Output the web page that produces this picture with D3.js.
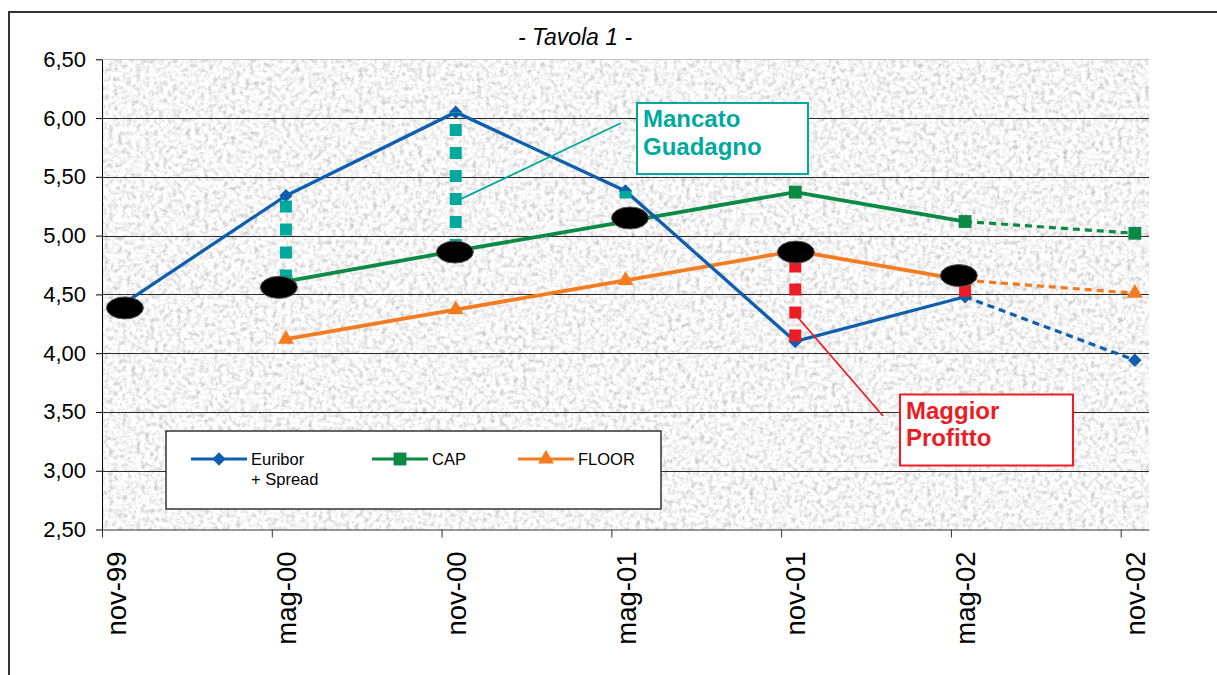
<!DOCTYPE html>
<html>
<head>
<meta charset="utf-8">
<script src="https://cdn.jsdelivr.net/npm/d3@7"></script>
<style>
body{margin:0;background:#fff;}
svg{display:block;font-family:Arial,"Liberation Sans",sans-serif;}
</style>
</head>
<body>
<svg width="1217" height="675"></svg>
<script>
// dati
var mesi = ["nov-99","mag-00","nov-00","mag-01","nov-01","mag-02","nov-02"];
var posMesi = [0,6,12,18,24,30,36]; // mesi contati da nov-99
var euribor = [4.38,5.34,6.05,5.38,4.10,4.48,3.94];
var cap = [null,4.61,4.87,5.12,5.37,5.12,5.02];
var floor = [null,4.12,4.37,4.62,4.87,4.62,4.51];
var tickY = [2.5,3,3.5,4,4.5,5,5.5,6,6.5];
// ovali neri = tasso effettivo (posizione in mesi, valore)
var ovaliMesi = [0.81,6.25,12.47,18.66,24.52,30.28];
var ovaliTasso = [4.385,4.56,4.86,5.15,4.86,4.66];
// indici dei mesi con tratteggio verticale
var mancatoIdx = [1,2,3];   // euribor sopra il cap
var profittoIdx = [4,5];    // floor sopra l'euribor

var svg = d3.select("svg");
var x = d3.scaleLinear().domain([0,37]).range([102,1149]);
var y = d3.scaleLinear().domain([2.5,6.5]).range([529.5,59.3]);

// sfondo granito
var filtro = svg.append("defs").append("filter")
	.attr("id","granito")
	.attr("x",0).attr("y",0).attr("width",1).attr("height",1)
	.attr("color-interpolation-filters","sRGB");
filtro.append("feTurbulence")
	.attr("type","fractalNoise")
	.attr("baseFrequency",0.22)
	.attr("numOctaves",4)
	.attr("seed",5);
filtro.append("feColorMatrix")
	.attr("type","matrix")
	.attr("values","0.26 0.26 0.26 0 0.57  0.26 0.26 0.26 0 0.57  0.26 0.26 0.26 0 0.57  0 0 0 0 1");

// cornice esterna
svg.append("path")
	.attr("d","M9,680 V12 H1230")
	.style("fill","none")
	.style("stroke","#333")
	.style("stroke-width",2);

svg.append("rect")
	.attr("x",x(0))
	.attr("y",y(6.5))
	.attr("width",x(37)-x(0))
	.attr("height",y(2.5)-y(6.5))
	.attr("filter","url(#granito)");

// griglia
svg.selectAll(".griglia")
	.data(tickY.slice(1))
	.enter()
	.append("line")
	.attr("x1",x(0))
	.attr("x2",x(37))
	.attr("y1",d => Math.round(y(d))+0.5)
	.attr("y2",d => Math.round(y(d))+0.5)
	.style("stroke",d => d==6.5 ? "#c4c4c4" : "#2a2a2a")
	.style("stroke-width",1);

// assi
var asseY = svg.append("g")
	.attr("transform","translate("+x(0)+",0)")
	.call(d3.axisLeft(y)
		.tickValues(tickY)
		.tickSize(6)
		.tickSizeOuter(0)
		.tickPadding(10)
		.tickFormat(d => d3.format(".2f")(d).replace(".",",")));
asseY.selectAll("text").attr("font-size",22).attr("fill","#000").attr("font-family","Arial, 'Liberation Sans', sans-serif");
asseY.selectAll("line,path").style("stroke","#000");

var mezzoMese = x(0.5)-x(0);
var asseX = svg.append("g")
	.attr("transform","translate(0,"+y(2.5)+")")
	.call(d3.axisBottom(x)
		.tickValues(posMesi)
		.tickSize(8)
		.tickSizeOuter(0)
		.tickFormat((d,i) => mesi[i]));
asseX.selectAll("text")
	.attr("font-size",27.5)
	.attr("fill","#000")
	.attr("font-family","Arial, 'Liberation Sans', sans-serif")
	.attr("text-anchor","end")
	.attr("x",0).attr("y",0)
	.attr("dy","0.35em")
	.attr("transform","translate("+mezzoMese+",22) rotate(-90)");
asseX.selectAll("line,path").style("stroke","#333");

// serie
function punti(valori){
	return valori.map((v,i) => ({m:posMesi[i], v:v}));
}
var linea = d3.line()
	.defined(d => d.v != null)
	.x(d => x(d.m+0.5))
	.y(d => y(d.v));

function simbolo(tipo){
	if(tipo=="rombo") return d3.symbol(d3.symbolSquare,90)();
	if(tipo=="quadrato") return d3.symbol(d3.symbolSquare,165)();
	return d3.symbol(d3.symbolTriangle,110)();
}
function disegnaSerie(valori,colore,spessore,tipo){
	var p = punti(valori);
	svg.append("path")
		.attr("d",linea(p.slice(0,6)))
		.style("fill","none")
		.style("stroke",colore)
		.style("stroke-width",spessore);
	svg.append("path")
		.attr("d",linea(p.slice(5,7)))
		.style("fill","none")
		.style("stroke",colore)
		.style("stroke-width",3.2)
		.style("stroke-dasharray","7,5");
	svg.selectAll(null)
		.data(p.filter(d => d.v != null))
		.enter()
		.append("path")
		.attr("d",simbolo(tipo))
		.attr("transform",d => "translate("+x(d.m+0.5)+","+y(d.v)+")"+(tipo=="rombo" ? " rotate(45)" : ""))
		.style("fill",colore);
}
disegnaSerie(floor,"#f47b20",3.8,"triangolo");
disegnaSerie(cap,"#0b8a44",3.8,"quadrato");
disegnaSerie(euribor,"#0f5fae",3.3,"rombo");

// tratteggi verticali (dal basso verso l'alto)
function tratteggio(indici,alto,basso,colore,largo){
	svg.selectAll(null)
		.data(indici)
		.enter()
		.append("line")
		.attr("x1",i => x(posMesi[i]+0.5))
		.attr("x2",i => x(posMesi[i]+0.5))
		.attr("y1",i => y(basso[i]))
		.attr("y2",i => y(alto[i]))
		.style("stroke",colore)
		.style("stroke-width",largo)
		.style("stroke-dasharray","12,11");
}
tratteggio(mancatoIdx,euribor,cap,"#00a99d",12);
tratteggio(profittoIdx,floor,euribor,"#ed1c24",12);

// ovali neri
svg.selectAll(".ovale")
	.data(ovaliMesi)
	.enter()
	.append("ellipse")
	.attr("cx",d => x(d))
	.attr("cy",(d,i) => y(ovaliTasso[i]))
	.attr("rx",18.5)
	.attr("ry",11)
	.style("fill","#000")
	.style("stroke","#555")
	.style("stroke-width",1);

// richiami
svg.append("line")
	.attr("x1",x(posMesi[2]+0.5)+5).attr("y1",y(5.31))
	.attr("x2",621).attr("y2",123)
	.style("stroke","#00a99d").style("stroke-width",1.8);
svg.append("line")
	.attr("x1",x(posMesi[4]+0.5)+2).attr("y1",y(4.31))
	.attr("x2",883).attr("y2",416)
	.style("stroke","#ed1c24").style("stroke-width",1.8);

function riquadro(px,py,w,h,colore,righe){
	svg.append("rect")
		.attr("x",px).attr("y",py)
		.attr("width",w).attr("height",h)
		.style("fill","#fff")
		.style("stroke",colore)
		.style("stroke-width",2);
	svg.selectAll(null)
		.data(righe)
		.enter()
		.append("text")
		.attr("x",px+6)
		.attr("y",(d,i) => py+24+i*27.5)
		.attr("font-size",24)
		.attr("font-weight","bold")
		.attr("fill",colore)
		.text(d => d);
}
riquadro(637,103,171,71,"#00a99d",["Mancato","Guadagno"]);
riquadro(900,394.5,173,71,"#ed1c24",["Maggior","Profitto"]);

// legenda
svg.append("rect")
	.attr("x",166).attr("y",431)
	.attr("width",495).attr("height",78)
	.style("fill","#fff")
	.style("stroke","#333")
	.style("stroke-width",1.5);
var voci = [
	{testo:["Euribor","+ Spread"], colore:"#0f5fae", tipo:"rombo", x0:191},
	{testo:["CAP"], colore:"#0b8a44", tipo:"quadrato", x0:372},
	{testo:["FLOOR"], colore:"#f47b20", tipo:"triangolo", x0:518}
];
voci.forEach(function(v){
	svg.append("line")
		.attr("x1",v.x0).attr("x2",v.x0+56)
		.attr("y1",459).attr("y2",459)
		.style("stroke",v.colore)
		.style("stroke-width",3);
	svg.append("path")
		.attr("d",simbolo(v.tipo))
		.attr("transform","translate("+(v.x0+28)+",459)"+(v.tipo=="rombo" ? " rotate(45)" : ""))
		.style("fill",v.colore);
	v.testo.forEach(function(t,i){
		svg.append("text")
			.attr("x",v.x0+60)
			.attr("y",465+i*20)
			.attr("font-size",16.5)
			.attr("fill","#000")
			.text(t);
	});
});

// titolo
svg.append("text")
	.attr("x",575)
	.attr("y",45)
	.attr("text-anchor","middle")
	.attr("font-size",23)
	.attr("font-style","italic")
	.attr("fill","#000")
	.text("- Tavola 1 -");
</script>
</body>
</html>
